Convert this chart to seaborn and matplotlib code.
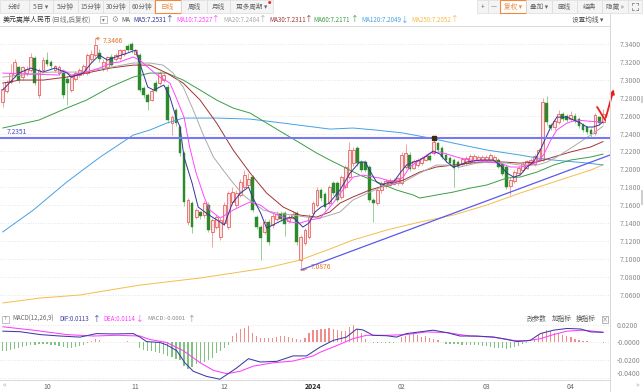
import matplotlib
matplotlib.use("Agg")
import matplotlib.pyplot as plt
from matplotlib.patches import Rectangle
from matplotlib.lines import Line2D
import numpy as np
import pandas as pd
import seaborn as sns

# ---------------- data (USD/CNH daily) ----------------
opens = [7.2755, 7.2880, 7.2975, 7.3054, 7.3143, 7.3030, 7.3080, 7.3110, 7.3244, 7.2830,
         7.3110, 7.3221, 7.3200, 7.3110, 7.3080, 7.3076, 7.3010, 7.2886, 7.3010, 7.3050,
         7.3090, 7.3076, 7.3230, 7.3277, 7.3300, 7.3130, 7.3140, 7.3260, 7.3230, 7.3240,
         7.3290, 7.3378, 7.3400, 7.3290, 7.3277, 7.2908, 7.2830, 7.2780, 7.2970, 7.2964,
         7.3000, 7.2920, 7.2517, 7.2663, 7.2473, 7.2182, 7.1411, 7.1623, 7.1467, 7.1520,
         7.1489, 7.1601, 7.1300, 7.1355, 7.1244, 7.1400, 7.1355, 7.1630, 7.1600, 7.1713,
         7.1802, 7.1820, 7.1914, 7.1467, 7.1355, 7.1300, 7.1411, 7.1380, 7.1450, 7.1500,
         7.1510, 7.1420, 7.1460, 7.1512, 7.0987, 7.1177, 7.1244, 7.1512, 7.1601, 7.1769,
         7.1720, 7.1623, 7.1847, 7.1847, 7.1691, 7.1802, 7.1914, 7.2070, 7.2238, 7.2080,
         7.2080, 7.2026, 7.1657, 7.1623, 7.1769, 7.1810, 7.1830, 7.1840, 7.1850, 7.1847,
         7.2026, 7.2160, 7.2020, 7.2050, 7.2070, 7.2110, 7.2150, 7.2182, 7.2290, 7.2240,
         7.2160, 7.2130, 7.2110, 7.2080, 7.2060, 7.2070, 7.2080, 7.2100, 7.2110, 7.2110,
         7.2110, 7.2110, 7.2110, 7.2110, 7.2060, 7.2026, 7.1810, 7.1870, 7.1960, 7.1990,
         7.2020, 7.2070, 7.2060, 7.2110, 7.2110, 7.2740, 7.2500, 7.2470, 7.2530, 7.2620,
         7.2600, 7.2560, 7.2600, 7.2560, 7.2500, 7.2470, 7.2440, 7.2406, 7.2580, 7.2530]
closes = [7.2900, 7.2975, 7.3076, 7.3199, 7.2998, 7.3143, 7.3120, 7.3255, 7.2964, 7.3110,
          7.3221, 7.3180, 7.3150, 7.3150, 7.3143, 7.2830, 7.2960, 7.3031, 7.3080, 7.3110,
          7.3150, 7.3277, 7.3290, 7.3390, 7.3230, 7.3200, 7.3250, 7.3170, 7.3277, 7.3333,
          7.3330, 7.3333, 7.3333, 7.3330, 7.2886, 7.2830, 7.2752, 7.2880, 7.2880, 7.3076,
          7.3054, 7.2551, 7.2584, 7.2517, 7.2182, 7.1640, 7.1657, 7.1355, 7.1545, 7.1480,
          7.1623, 7.1322, 7.1434, 7.1467, 7.1434, 7.1601, 7.1735, 7.1750, 7.1740, 7.1860,
          7.1936, 7.1890, 7.1545, 7.1355, 7.1232, 7.1411, 7.1188, 7.1480, 7.1500, 7.1450,
          7.1390, 7.1460, 7.1500, 7.1188, 7.1244, 7.1322, 7.1467, 7.1623, 7.1769, 7.1680,
          7.1580, 7.1802, 7.1740, 7.1657, 7.1914, 7.2026, 7.2216, 7.2216, 7.2070, 7.1992,
          7.1992, 7.1657, 7.1623, 7.1769, 7.1847, 7.1870, 7.1880, 7.1880, 7.1900, 7.2160,
          7.2182, 7.2000, 7.2090, 7.2110, 7.2130, 7.2150, 7.2110, 7.2305, 7.2220, 7.2140,
          7.2100, 7.2070, 7.2010, 7.2030, 7.2120, 7.2130, 7.2150, 7.2150, 7.2140, 7.2140,
          7.2140, 7.2160, 7.2140, 7.2030, 7.1950, 7.1802, 7.1880, 7.1970, 7.2020, 7.2060,
          7.2090, 7.2110, 7.2150, 7.2220, 7.2752, 7.2528, 7.2460, 7.2540, 7.2620, 7.2560,
          7.2550, 7.2610, 7.2540, 7.2480, 7.2440, 7.2420, 7.2390, 7.2607, 7.2520, 7.2620]
highs = [7.2960, 7.3000, 7.3180, 7.3230, 7.3160, 7.3160, 7.3150, 7.3300, 7.3270, 7.3130,
         7.3250, 7.3311, 7.3220, 7.3170, 7.3170, 7.3100, 7.3040, 7.3060, 7.3100, 7.3130,
         7.3180, 7.3300, 7.3330, 7.3466, 7.3340, 7.3230, 7.3270, 7.3290, 7.3300, 7.3350,
         7.3350, 7.3400, 7.3420, 7.3350, 7.3300, 7.2930, 7.2850, 7.2900, 7.3000, 7.3100,
         7.3080, 7.2950, 7.2610, 7.2690, 7.2500, 7.2210, 7.1680, 7.1650, 7.1570, 7.1540,
         7.1650, 7.1630, 7.1460, 7.1490, 7.1460, 7.1630, 7.1760, 7.1800, 7.1770, 7.1890,
         7.1990, 7.1960, 7.1940, 7.1490, 7.1380, 7.1440, 7.1440, 7.1510, 7.1530, 7.1530,
         7.1540, 7.1490, 7.1530, 7.1540, 7.1270, 7.1350, 7.1500, 7.1650, 7.1800, 7.1790,
         7.1750, 7.1830, 7.1870, 7.1870, 7.1940, 7.2050, 7.2305, 7.2250, 7.2260, 7.2110,
         7.2110, 7.2050, 7.1680, 7.1790, 7.1870, 7.1890, 7.1900, 7.1900, 7.1920, 7.2190,
         7.2280, 7.2190, 7.2120, 7.2130, 7.2150, 7.2170, 7.2170, 7.2351, 7.2310, 7.2260,
         7.2180, 7.2150, 7.2130, 7.2100, 7.2140, 7.2150, 7.2170, 7.2170, 7.2160, 7.2160,
         7.2160, 7.2180, 7.2160, 7.2130, 7.2080, 7.2050, 7.1900, 7.1990, 7.2040, 7.2080,
         7.2110, 7.2130, 7.2170, 7.2240, 7.2800, 7.2820, 7.2520, 7.2560, 7.2660, 7.2640,
         7.2620, 7.2650, 7.2630, 7.2580, 7.2520, 7.2490, 7.2460, 7.2630, 7.2600, 7.2680]
lows = [7.2700, 7.2850, 7.2950, 7.3030, 7.2960, 7.3000, 7.3040, 7.3090, 7.2940, 7.2800,
        7.3090, 7.3160, 7.3120, 7.3090, 7.3050, 7.2800, 7.2718, 7.2860, 7.2990, 7.3030,
        7.3060, 7.3050, 7.3200, 7.3250, 7.3200, 7.3100, 7.3100, 7.3150, 7.3210, 7.3220,
        7.3270, 7.3310, 7.3300, 7.3270, 7.2860, 7.2800, 7.2663, 7.2760, 7.2860, 7.2940,
        7.2980, 7.2520, 7.2383, 7.2490, 7.2150, 7.1590, 7.1380, 7.1288, 7.1440, 7.1450,
        7.1460, 7.1300, 7.1132, 7.1330, 7.1210, 7.1380, 7.1330, 7.1600, 7.1570, 7.1690,
        7.1780, 7.1800, 7.1520, 7.1330, 7.0987, 7.1280, 7.1160, 7.1350, 7.1420, 7.1420,
        7.1250, 7.1400, 7.1440, 7.1160, 7.0876, 7.1150, 7.1220, 7.1490, 7.1580, 7.1650,
        7.1550, 7.1600, 7.1710, 7.1630, 7.1670, 7.1780, 7.1890, 7.2040, 7.2040, 7.1970,
        7.1970, 7.1630, 7.1411, 7.1600, 7.1740, 7.1790, 7.1810, 7.1820, 7.1830, 7.1830,
        7.2000, 7.1980, 7.2000, 7.2030, 7.2050, 7.2090, 7.2090, 7.2160, 7.2200, 7.2120,
        7.2080, 7.2050, 7.1802, 7.2010, 7.2040, 7.2050, 7.2060, 7.2080, 7.2090, 7.2090,
        7.2090, 7.2090, 7.2090, 7.2010, 7.1930, 7.1780, 7.1713, 7.1850, 7.1940, 7.1970,
        7.2000, 7.2050, 7.2040, 7.2090, 7.2090, 7.2500, 7.2440, 7.2440, 7.2510, 7.2540,
        7.2530, 7.2540, 7.2520, 7.2460, 7.2420, 7.2400, 7.2360, 7.2380, 7.2500, 7.2510]

# moving averages, read at points along each line (candle index, price)
ma5_idx = [0, 4, 7, 10, 13, 16, 17, 20, 22, 24, 26, 28, 31, 33, 34, 36, 37.5, 39, 40, 41.5,
           43, 44, 45, 47, 48.5, 50.5, 52, 54, 55, 57, 59, 61, 62, 64, 65.5, 68, 70.5, 72, 74.5, 76,
           77.5, 79, 81, 83.7, 86.2, 88.6, 90, 91, 92.8, 94, 95.3, 97, 98.6, 100.2, 102, 103.5,
           105.2, 106.8, 108.5, 110.2, 111.8, 113.5, 115.2, 118.5, 121.8, 123.4, 125.1, 126.8,
           128.4, 130.1, 131.7, 133.4, 134.5, 136, 137.5, 140, 141.7, 143.4, 145, 146.5, 148, 149]
ma5_val = [7.2886, 7.3076, 7.3132, 7.3087, 7.3132, 7.3076, 7.3031, 7.3076, 7.3188, 7.3277,
           7.3221, 7.3255, 7.3300, 7.3333, 7.3188, 7.2920, 7.2886, 7.2920, 7.2942, 7.2808,
           7.2584, 7.2473, 7.2138, 7.1847, 7.1579, 7.1512, 7.1467, 7.1411, 7.1378, 7.1623,
           7.1735, 7.1802, 7.1691, 7.1512, 7.1344, 7.1400, 7.1456, 7.1467, 7.1355, 7.1400,
           7.1523, 7.1579, 7.1623, 7.1769, 7.1959, 7.2082, 7.2082, 7.1992, 7.1858, 7.1825,
           7.1847, 7.1858, 7.1959, 7.2048, 7.2082, 7.2104, 7.2149, 7.2205, 7.2171, 7.2082,
           7.2026, 7.2048, 7.2082, 7.2104, 7.2104, 7.2048, 7.1959, 7.1914, 7.1936, 7.2026,
           7.2082, 7.2216, 7.2327, 7.2473, 7.2584, 7.2584, 7.2551, 7.2517, 7.2473, 7.2473,
           7.2495, 7.2531]
ma10_idx = [0, 14, 15, 17, 20, 24, 27, 29, 32.4, 34, 36, 39, 41.5, 43, 45, 46.4, 48, 50, 51.4, 54,
            55.6, 57.2, 59.7, 61.4, 64, 66.3, 69.6, 71.3, 73.8, 76.3, 78.8, 82, 85.3, 87, 89.4, 92,
            93.6, 95.3, 97, 99.4, 101, 103.5, 106, 108.5, 111, 113.5, 116, 120, 123.4, 126, 128.4,
            131, 132.6, 134.2, 136, 137.5, 140, 142.5, 145, 149]
ma10_val = [7.3076, 7.3054, 7.3110, 7.3054, 7.3076, 7.3132, 7.3188, 7.3200, 7.3255, 7.3221,
            7.3143, 7.3031, 7.2964, 7.2808, 7.2584, 7.2250, 7.1959, 7.1691, 7.1545, 7.1456,
            7.1500, 7.1545, 7.1601, 7.1635, 7.1600, 7.1523, 7.1467, 7.1411, 7.1400, 7.1434,
            7.1456, 7.1623, 7.1825, 7.1914, 7.1936, 7.1914, 7.1903, 7.1880, 7.1847, 7.1914,
            7.2026, 7.2104, 7.2182, 7.2194, 7.2160, 7.2127, 7.2104, 7.2082, 7.2070, 7.2026,
            7.2026, 7.2048, 7.2082, 7.2160, 7.2327, 7.2439, 7.2517, 7.2551, 7.2540, 7.2527]
ma20_idx = [0, 12, 20, 27, 32.4, 36.5, 39.8, 42.3, 44.8, 47.3, 49.8, 52.3, 54.7, 57.2, 59.7,
            62.2, 64.7, 68, 72, 75.4, 78.8, 83.7, 86.9, 91.1, 95.3, 99.4, 103.5, 107.6, 110.2,
            113.5, 117.6, 121.8, 125.1, 128.4, 132.6, 135.1, 137.5, 141, 144, 147, 149]
ma20_val = [7.3031, 7.3087, 7.3087, 7.3143, 7.3188, 7.3188, 7.3165, 7.3076, 7.2920, 7.2663,
            7.2383, 7.2138, 7.1992, 7.1847, 7.1713, 7.1623, 7.1545, 7.1512, 7.1489, 7.1467,
            7.1456, 7.1523, 7.1657, 7.1746, 7.1825, 7.1858, 7.1959, 7.2048, 7.2048, 7.2026,
            7.2070, 7.2082, 7.2070, 7.2048, 7.2048, 7.2082, 7.2138, 7.2238, 7.2327, 7.2417, 7.2484]
ma30_idx = [0, 4.3, 10.1, 15.9, 20.8, 26.7, 32.4, 36.5, 40.7, 44.8, 49, 53.1, 57.2, 61.4, 65.5,
            69.6, 73.8, 77.9, 81.2, 83.7, 86.9, 91.1, 95.3, 99.4, 103.5, 107.6, 111.8, 116, 120.1,
            124.3, 128.4, 132.6, 136.7, 140.9, 145.9, 149]
ma30_val = [7.2964, 7.2998, 7.2998, 7.3031, 7.3076, 7.3132, 7.3165, 7.3165, 7.3076, 7.2964,
            7.2774, 7.2517, 7.2216, 7.1959, 7.1735, 7.1579, 7.1489, 7.1467, 7.1523, 7.1623,
            7.1691, 7.1769, 7.1825, 7.1880, 7.1970, 7.2026, 7.2048, 7.2070, 7.2082, 7.2082,
            7.2070, 7.2082, 7.2138, 7.2194, 7.2250, 7.2311]
ma60_idx = [0, 9, 15.9, 20.8, 26.7, 32.4, 36.5, 40.7, 44.8, 49, 53.1, 57.2, 61.4, 65.5, 69.6,
            73.8, 77.9, 81.2, 83.7, 88.6, 93.6, 97.7, 101.9, 103.5, 107.6, 111.8, 116, 120.1,
            125.1, 128.4, 132.6, 136.7, 140.9, 145.9, 149]
ma60_val = [7.2462, 7.2551, 7.2685, 7.2774, 7.2920, 7.3031, 7.3076, 7.3076, 7.2998, 7.2886,
            7.2774, 7.2685, 7.2629, 7.2517, 7.2406, 7.2294, 7.2182, 7.2104, 7.2048, 7.1936,
            7.1847, 7.1769, 7.1713, 7.1679, 7.1713, 7.1746, 7.1791, 7.1825, 7.1903, 7.1914,
            7.1970, 7.2048, 7.2104, 7.2138, 7.2171]
ma120_idx = [0, 7.6, 15.9, 24.2, 32.4, 36.5, 40.7, 44.8, 53.1, 61.4, 69.6, 81.2, 86.9, 92.7,
             99.4, 106, 111.8, 120.1, 128.4, 132.6, 136.7, 145, 149]
ma120_val = [7.1300, 7.1545, 7.1858, 7.2138, 7.2383, 7.2439, 7.2517, 7.2573, 7.2573, 7.2562,
             7.2517, 7.2450, 7.2462, 7.2439, 7.2406, 7.2350, 7.2294, 7.2216, 7.2160, 7.2127,
             7.2104, 7.2071, 7.2049]
ma250_idx = [0, 9.3, 19.2, 26.6, 34.1, 49, 65.5, 73.8, 81.2, 86.9, 95.3, 103.5, 111.8, 120.1,
             128.4, 136.7, 145.9, 149]
ma250_val = [7.0507, 7.0562, 7.0596, 7.0652, 7.0707, 7.0786, 7.0898, 7.0987, 7.1110, 7.1210,
             7.1322, 7.1411, 7.1489, 7.1601, 7.1735, 7.1858, 7.1992, 7.2052]

# MACD(12,26,9)
dif_idx = [0, 4.3, 9.3, 14.2, 19.2, 23.3, 27.5, 32.4, 34.1, 35.7, 39, 40.7, 43.2, 45.2, 47.3,
           50.6, 53.9, 55.6, 58.1, 61, 63.9, 68, 72.1, 75.4, 78.7, 82, 85.3, 87.8, 89.4, 91.9,
           95.3, 97.7, 100.2, 103.5, 106.8, 110.2, 113.5, 117.6, 121.8, 125.1, 127.6, 130.9,
           133.4, 136.7, 140, 143.4, 145.9, 149]
dif_val = [0.0126, 0.0120, 0.0088, 0.0072, 0.0060, 0.0099, 0.0095, 0.0099, 0.0060, 0.0010,
           0.0000, -0.0027, -0.0091, -0.0225, -0.0320, -0.0377, -0.0408, -0.0358, -0.0282, -0.0180,
           -0.0217, -0.0210, -0.0149, -0.0149, -0.0053, 0.0023, 0.0060, 0.0149, 0.0140, 0.0080,
           0.0075, 0.0060, 0.0099, 0.0118, 0.0137, 0.0110, 0.0072, 0.0072, 0.0060, 0.0034,
           0.0010, 0.0023, 0.0099, 0.0137, 0.0156, 0.0150, 0.0118, 0.0113]
dea_idx = [0, 7.6, 15.9, 22.5, 28.3, 34.1, 36.5, 40.7, 44.8, 49, 52.3, 55.6, 58.9, 62.2, 67.2,
           72.1, 77.1, 78.7, 82.9, 86.9, 90.3, 95.3, 100.2, 105.2, 110.2, 116, 121.8, 126.8,
           130.1, 133.4, 136.7, 140, 144.2, 149]
dea_val = [0.0175, 0.0137, 0.0088, 0.0072, 0.0080, 0.0072, 0.0034, 0.0000, -0.0091, -0.0225,
           -0.0310, -0.0347, -0.0320, -0.0263, -0.0225, -0.0206, -0.0149, -0.0110, -0.0034, 0.0042,
           0.0080, 0.0080, 0.0088, 0.0118, 0.0110, 0.0072, 0.0060, 0.0023, 0.0020, 0.0042,
           0.0088, 0.0126, 0.0137, 0.0114]
macd_hist = [-0.010, -0.009, -0.008, -0.007, -0.006, -0.005, -0.004, -0.003, -0.003, -0.002,
             -0.002, -0.002, -0.003, -0.003, -0.004, -0.005, -0.006, -0.006, -0.005, -0.004,
             -0.003, -0.001, 0.002, 0.004, 0.003, 0.001, 0.001, 0.001, 0.001, 0.001,
             0.001, 0.002, 0.001, 0.0005, -0.006, -0.008, -0.009, -0.010, -0.011, -0.012,
             -0.013, -0.015, -0.016, -0.018, -0.020, -0.026, -0.029, -0.027, -0.024, -0.023,
             -0.022, -0.020, -0.017, -0.012, -0.009, -0.0065, -0.003, 0.007, 0.011, 0.0145,
             0.016, 0.018, 0.011, 0.007, 0.005, 0.0046, 0.0046, 0.0053, 0.0065, 0.0076,
             0.0070, 0.0065, 0.0053, 0.0034, 0.0023, 0.0046, 0.0107, 0.0137, 0.0137, 0.0150,
             0.0150, 0.0160, 0.0150, 0.0140, 0.0133, 0.0133, 0.0170, 0.0190, 0.0150, 0.0100,
             0.0040, 0.0010, -0.001, -0.001, -0.001, -0.001, -0.001, -0.001, 0.001, 0.006,
             0.007, 0.008, 0.009, 0.008, 0.006, 0.007, 0.005, 0.004, 0.003, 0.001,
             -0.002, -0.002, -0.002, -0.002, -0.003, -0.003, -0.003, -0.003, -0.003, -0.004,
             -0.004, -0.005, -0.006, -0.006, -0.006, -0.007, -0.006, -0.005, -0.004, -0.002,
             -0.001, 0.001, 0.004, 0.008, 0.011, 0.014, 0.013, 0.011, 0.010, 0.008,
             0.007, 0.006, 0.004, 0.003, 0.002, 0.002, 0.001, 0.001, 0.0003, -0.0001]

month_pos = [11, 33, 55, 77, 99, 120, 141]
month_labels = ["10", "11", "12", "2024", "02", "03", "04"]
price_levels = [7.34, 7.32, 7.30, 7.28, 7.26, 7.24, 7.22, 7.20, 7.18, 7.16, 7.14, 7.12, 7.10, 7.08, 7.06]
support_level = 7.2351
trend_end = (150.7, 7.2160)   # where the hand-drawn trend line leaves the plot

# ---------------- styling ----------------
sns.set_theme(style="white")
plt.rcParams["font.family"] = ["Noto Sans CJK SC", "DejaVu Sans"]
plt.rcParams["axes.unicode_minus"] = False

UP_EDGE, UP_FACE, UP_WICK = "#e34848", "#fde4e4", "#f08a8a"
DN_FACE, DN_WICK = "#2b8a2b", "#7cc27c"
GRID = "#dcdcdc"
LABEL = "#8a8a8a"
ma_colors = {"MA5": "#34349a", "MA10": "#ff46ff", "MA20": "#ababab", "MA30": "#a03434",
             "MA60": "#3a9e46", "MA120": "#45a1e4", "MA250": "#f6bc4c"}

W, H = 643, 392
fig = plt.figure(figsize=(W / 100, H / 100), dpi=100)
fig.patch.set_facecolor("white")


def box(x0, y0, x1, y1):
    return [x0 / W, 1 - y1 / H, (x1 - x0) / W, (y1 - y0) / H]


def rect(x0, y0, x1, y1, **kw):
    fig.add_artist(Rectangle((x0 / W, 1 - y1 / H), (x1 - x0) / W, (y1 - y0) / H,
                             transform=fig.transFigure, **kw))


def txt(x, y, s, **kw):
    kw.setdefault("fontsize", 5)
    kw.setdefault("va", "center")
    kw.setdefault("color", "#555555")
    fig.text(x / W, 1 - y / H, s, **kw)


def fline(xs, ys, **kw):
    fig.add_artist(Line2D([x / W for x in xs], [1 - y / H for y in ys],
                          transform=fig.transFigure, **kw))


# ---------------- toolbar ----------------
tabs = [(0, 29, "分时"), (29, 53, "5日 ▾"), (53, 78, "5分钟"), (78, 103, "15分钟"),
        (103, 129, "30分钟"), (129, 154, "60分钟"), (155, 181, "日线"), (181, 207, "周线"),
        (207, 230, "月线"), (230, 273, "更多周期 ▾")]
tools = [(477, 488, "+"), (488, 500, "—"), (500, 526, "复权 ▾"), (526, 552, "叠加 ▾"),
         (552, 577, "画线"), (577, 602, "经典"), (602, 628, "隐藏 »"), (628, 642, "")]
for x0, x1, label in tabs + tools:
    selected = label in ("日线", "复权 ▾")
    rect(x0, 0, x1, 13, facecolor="white" if selected else "#f4f4f4",
         edgecolor="#f0883e" if selected else "#dcdcdc", lw=0.8 if selected else 0.5)
    txt((x0 + x1) / 2, 6.8, label, ha="center", fontsize=4.8,
        color="#f0883e" if selected else "#666666")
fig.text(270 / W, 1 - 3 / H, "●", color="#e8201c", fontsize=2.5, ha="center", va="center")
# full-screen icon corners
for cx, cy, dx, dy in [(632, 3, 1, 1), (638, 3, -1, 1), (632, 10, 1, -1), (638, 10, -1, -1)]:
    fline([cx, cx + 2 * dx], [cy, cy], color="#888888", lw=0.6)
    fline([cx, cx], [cy, cy + 2 * dy], color="#888888", lw=0.6)

# ---------------- MA legend row ----------------
txt(3, 19.5, "美元离岸人民币", color="#333333", fontsize=5)
txt(51, 19.5, "(日线,后复权)", color="#777777", fontsize=4.8)
rect(100, 15.5, 106.5, 23, facecolor="white", edgecolor="#aaaaaa", lw=0.5)
txt(103.2, 19.3, "▾", ha="center", fontsize=4, color="#777777")
txt(114.5, 19.5, "⚙", ha="center", fontsize=5.5, color="#999999", family="DejaVu Sans")
txt(121, 19.5, "MA", color="#555555", fontsize=4.6)
legend_items = [("MA5", ma5_val, 133, 170, "↑"), ("MA10", ma10_val, 176, 216, "↑"),
                ("MA20", ma20_val, 223, 263, "↑"), ("MA30", ma30_val, 269, 309, "↑"),
                ("MA60", ma60_val, 313, 355, "↑"), ("MA120", ma120_val, 361, 405, "↓"),
                ("MA250", ma250_val, 411, 455, "↑")]
for name, vals, x_txt, x_arr, arr in legend_items:
    col = ma_colors[name]
    txt(x_txt, 19.5, f"{name}:{vals[-1]:.4f}", color=col, fontsize=4.5)
    txt(x_arr, 19.5, arr, color=col, fontsize=5.5, ha="center")
txt(572, 19.5, "设置均线 ▾", color="#555555", fontsize=4.8)

# ---------------- price panel ----------------
ax = fig.add_axes(box(0, 26, 610, 312))
xlim = (-0.66, 150.7)
idx = np.arange(len(closes))
o, c = np.array(opens), np.array(closes)
hi, lo = np.array(highs), np.array(lows)
up = c >= o
body = np.maximum(np.abs(c - o), 0.0007)
bottom = np.minimum(o, c)

ax.vlines(idx[up], lo[up], hi[up], color=UP_WICK, lw=0.55, zorder=2)
ax.vlines(idx[~up], lo[~up], hi[~up], color=DN_WICK, lw=0.55, zorder=2)
ax.bar(idx[up], body[up], bottom=bottom[up], width=0.7, color=UP_FACE,
       edgecolor=UP_EDGE, linewidth=0.5, zorder=3)
ax.bar(idx[~up], body[~up], bottom=bottom[~up], width=0.7, color=DN_FACE,
       edgecolor=DN_FACE, linewidth=0.3, zorder=3)

ma_specs = [("MA250", ma250_idx, ma250_val), ("MA120", ma120_idx, ma120_val),
            ("MA60", ma60_idx, ma60_val), ("MA30", ma30_idx, ma30_val),
            ("MA20", ma20_idx, ma20_val), ("MA10", ma10_idx, ma10_val),
            ("MA5", ma5_idx, ma5_val)]
ma_df = pd.concat([pd.DataFrame({"idx": xs, "price": ys, "line": name})
                   for name, xs, ys in ma_specs], ignore_index=True)
sns.lineplot(data=ma_df, x="idx", y="price", hue="line", palette=ma_colors,
             hue_order=[s[0] for s in ma_specs], estimator=None, sort=False,
             legend=False, linewidth=0.7, ax=ax, zorder=4)

# drawn support line, trend line and arrow
ax.axhline(support_level, color="#7878f4", lw=1.5, zorder=5)
ax.text(1.0, support_level + 0.0018, f"{support_level:.4f}", color="#4646c8",
        fontsize=4.8, va="bottom", ha="left", zorder=6)
ax.plot([107], [support_level], marker="s", ms=2.4, color="#3a2a10", zorder=6)
low_i = int(np.argmin(lo))
ax.plot([low_i, trend_end[0]], [lo[low_i], trend_end[1]], color="#5a5ae8", lw=0.9, zorder=5)
ax.plot([147.5, 149.5], [7.2697, 7.2551], color="#e8201c", lw=1.3, zorder=7,
        solid_capstyle="round")
ax.annotate("", xy=(151.8, 7.2925), xytext=(149.5, 7.2551), annotation_clip=False,
            arrowprops=dict(arrowstyle="-|>", color="#e8201c", lw=1.3, mutation_scale=6),
            zorder=7)

hi_i = int(np.argmax(hi))
ax.annotate(f"{hi[hi_i]:.4f}", xy=(hi_i, hi[hi_i]), xytext=(hi_i + 1.9, hi[hi_i] - 0.0032),
            color="#e8702a", fontsize=4.8, va="center",
            arrowprops=dict(arrowstyle="->", color="#e8702a", lw=0.5, shrinkA=0, shrinkB=0))
ax.annotate(f"{lo[low_i]:.4f}", xy=(low_i, lo[low_i]), xytext=(low_i + 2.3, lo[low_i] + 0.0030),
            color="#e8702a", fontsize=4.8, va="center",
            arrowprops=dict(arrowstyle="->", color="#e8702a", lw=0.5, shrinkA=0, shrinkB=0))

ax.set_xlim(*xlim)
ax.set_ylim(7.0406, 7.3602)
ax.set_xticks([])
ax.yaxis.tick_right()
ax.set_yticks(price_levels)
ax.set_yticklabels([f"{v:.4f}" for v in price_levels])
ax.tick_params(axis="y", length=0, pad=7, labelsize=5, labelcolor=LABEL)
ax.grid(axis="y", color=GRID, lw=0.6, ls=(0, (1, 2)))
ax.set_axisbelow(True)
ax.set_xlabel("")
ax.set_ylabel("")
for side, sp in ax.spines.items():
    sp.set_color("#d8d8d8")
    sp.set_linewidth(0.7)
ax.spines["left"].set_visible(False)

# ---------------- MACD panel ----------------
axm = fig.add_axes(box(0, 312, 610, 380))
hist = np.array(macd_hist)
bar_cols = np.where(hist >= 0, "#ef8c8c", "#80c380")
axm.bar(idx, hist, width=0.3, color=bar_cols, linewidth=0, zorder=2)
macd_df = pd.concat([pd.DataFrame({"idx": dif_idx, "v": dif_val, "line": "DIF"}),
                     pd.DataFrame({"idx": dea_idx, "v": dea_val, "line": "DEA"})],
                    ignore_index=True)
sns.lineplot(data=macd_df, x="idx", y="v", hue="line",
             palette={"DIF": "#3c3ca6", "DEA": "#ff3cff"}, hue_order=["DEA", "DIF"],
             estimator=None, sort=False, legend=False, linewidth=0.75, ax=axm, zorder=3)
macd_levels = [0.02, 0.0, -0.02, -0.04]
axm.set_xlim(*xlim)
axm.set_ylim(-0.0417, 0.0339)
axm.yaxis.tick_right()
axm.set_yticks(macd_levels)
axm.set_yticklabels(["0.0200", "-0.0000", "-0.0200", "-0.0400"])
axm.tick_params(axis="y", length=0, pad=5, labelsize=5, labelcolor=LABEL)
axm.get_yticklabels()[-1].set_va("bottom")
axm.set_xticks(month_pos)
axm.set_xticklabels(month_labels)
axm.tick_params(axis="x", length=0, pad=2.5, labelsize=5, labelcolor="#666666")
for lab in axm.get_xticklabels():
    if lab.get_text() == "2024":
        lab.set_color("#222222")
        lab.set_fontweight("bold")
axm.grid(axis="y", color=GRID, lw=0.6, ls=(0, (1, 2)))
axm.set_axisbelow(True)
axm.set_xlabel("")
axm.set_ylabel("")
for side, sp in axm.spines.items():
    sp.set_color("#d8d8d8")
    sp.set_linewidth(0.7)
axm.spines["left"].set_visible(False)
axm.spines["top"].set_visible(False)

# MACD header
rect(2, 315.5, 8.5, 322.5, facecolor="white", edgecolor="#aaaaaa", lw=0.5)
txt(5.2, 319, "?", ha="center", fontsize=4.2, color="#777777")
txt(12, 319, "MACD(12,26,9)", color="#666666", fontsize=4.4)
txt(59, 319, f"DIF:{dif_val[-1]:.4f}", color="#3c3ca6", fontsize=4.4)
txt(97, 319, "↑", color="#3c3ca6", fontsize=5.5, ha="center")
txt(103, 319, f"DEA:{dea_val[-1]:.4f}", color="#ff3cff", fontsize=4.4)
txt(140, 319, "↓", color="#ff3cff", fontsize=5.5, ha="center")
txt(147, 319, f"MACD:{macd_hist[-1]:.4f}", color="#888888", fontsize=4.3)
txt(192, 319, "↑", color="#888888", fontsize=5.5, ha="center")
txt(527, 319, "改参数", color="#555555", fontsize=4.8)
txt(552, 319, "加指标", color="#555555", fontsize=4.8)
txt(576, 319, "换指标", color="#555555", fontsize=4.8)
rect(601.5, 315.5, 608, 322.5, facecolor="white", edgecolor="#999999", lw=0.5)
txt(604.8, 319, "×", ha="center", fontsize=4.5, color="#777777")

# frame details
fline([609.6, 609.6], [13, 392], color="#d8d8d8", lw=0.7)
txt(4, 385.5, "«", color="#aaaaaa", fontsize=5.5, ha="center")
txt(637, 385.5, "»", color="#aaaaaa", fontsize=5.5, ha="center")
rect(640.5, 96, 643, 103, facecolor="#cfcfcf", edgecolor="none")
rect(640.5, 190, 643, 205, facecolor="#cfcfcf", edgecolor="none")

fig.savefig("out.png", dpi=100, facecolor="white")
